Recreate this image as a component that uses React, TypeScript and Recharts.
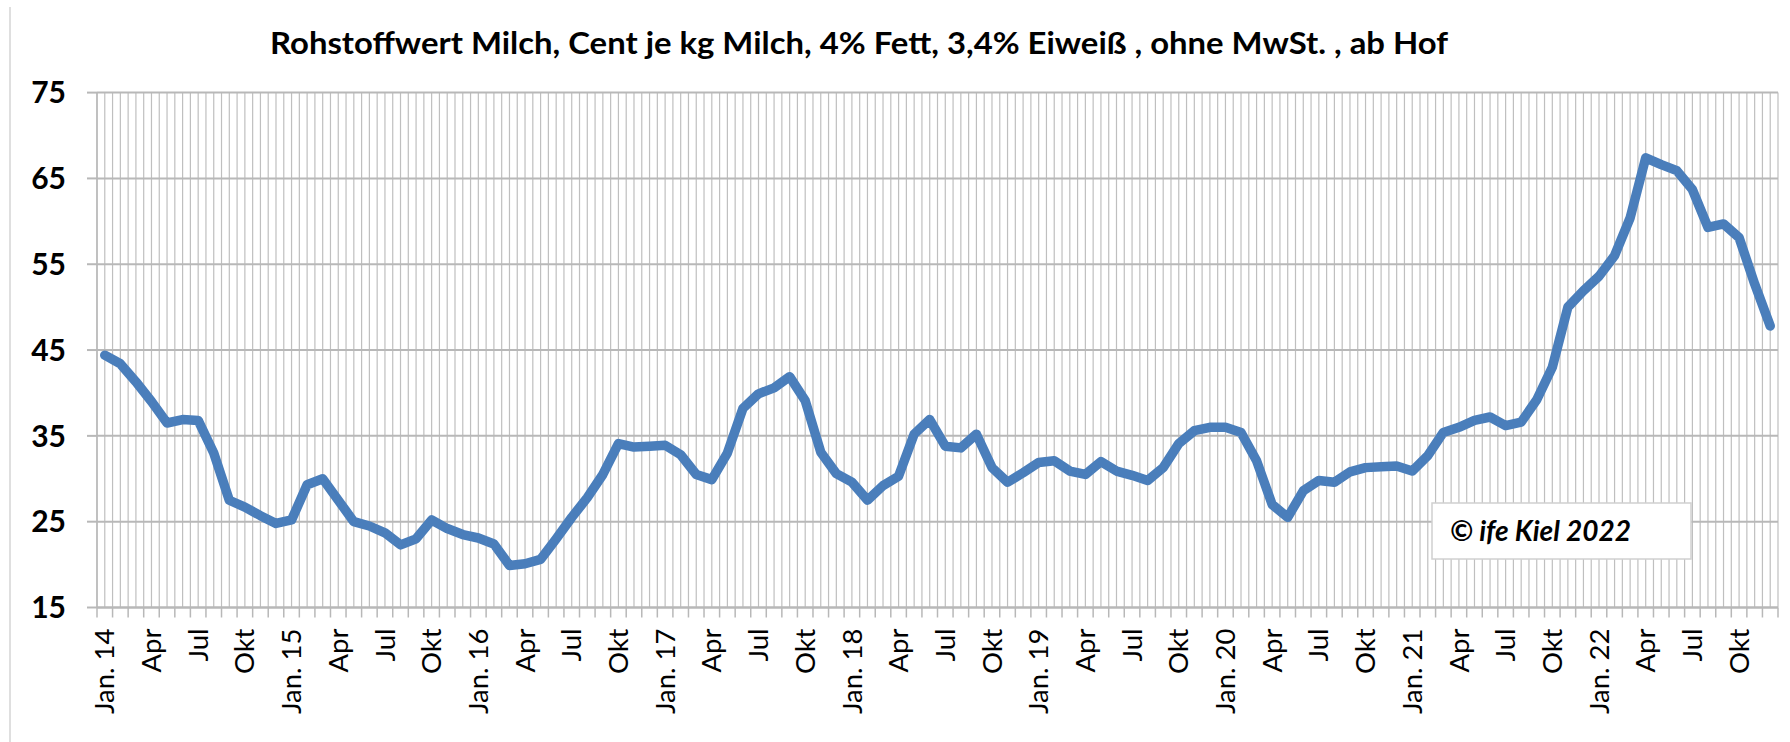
import React from 'react';
import { LineChart, Line, XAxis, YAxis, CartesianGrid } from 'recharts';

// Rohstoffwert Milch, ct/kg, monthly Jan 2014 .. Dec 2022
const v2014 = [44.4, 43.4, 41.3, 39.0, 36.5, 36.9, 36.8, 33.0, 27.5, 26.7, 25.7, 24.8];
const v2015 = [25.2, 29.3, 30.0, 27.5, 25.0, 24.5, 23.7, 22.3, 23.0, 25.2, 24.2, 23.5];
const v2016 = [23.1, 22.4, 19.9, 20.1, 20.6, 23.0, 25.5, 27.8, 30.5, 34.1, 33.7, 33.8];
const v2017 = [33.9, 32.8, 30.5, 29.9, 33.0, 38.2, 39.9, 40.6, 41.9, 39.1, 33.1, 30.6];
const v2018 = [29.6, 27.5, 29.2, 30.3, 35.2, 36.9, 33.8, 33.6, 35.2, 31.3, 29.6, 30.7];
const v2019 = [31.9, 32.1, 30.9, 30.5, 32.0, 30.9, 30.4, 29.8, 31.3, 34.1, 35.6, 36.0];
const v2020 = [36.0, 35.4, 32.1, 27.0, 25.5, 28.6, 29.8, 29.6, 30.8, 31.3, 31.4, 31.5];
const v2021 = [30.9, 32.7, 35.4, 36.0, 36.8, 37.2, 36.2, 36.6, 39.2, 43.0, 50.0, 51.9];
const v2022 = [53.6, 56.0, 60.4, 67.4, 66.6, 65.9, 63.7, 59.3, 59.7, 58.1, 52.7, 47.8];

const years = ['14', '15', '16', '17', '18', '19', '20', '21', '22'];
const quarterLabels = ['Jan.', 'Apr', 'Jul', 'Okt'];
const tickLabels = years.flatMap((y) => quarterLabels.map((q) => (q === 'Jan.' ? `Jan. ${y}` : q)));
const yTicks = [15, 25, 35, 45, 55, 65, 75];

const values = [...v2014, ...v2015, ...v2016, ...v2017, ...v2018, ...v2019, ...v2020, ...v2021, ...v2022];
const data = values.map((v, i) => ({ x: i + 0.5, v }));
const monthTicks = Array.from({ length: values.length + 1 }, (_, k) => k);

const W = 1790;
const H = 742;
const LEFT = 97;
const RIGHT = 12;
const TOP = 92.6;
const XAXIS_H = 134.5;
const PLOT_W = W - LEFT - RIGHT;
const MONTH_W = PLOT_W / values.length;
const FONT = 'Lato, "Open Sans", sans-serif';

const MonthTick = (props: any) => {
  const { x, y, payload } = props;
  const k = payload.value;
  if (k % 3 !== 0 || k >= values.length) return <g />;
  const cx = x + MONTH_W / 2;
  const ty = y + 9;
  return (
    <text
      x={cx}
      y={ty}
      transform={`rotate(-90 ${cx} ${ty})`}
      textAnchor="end"
      dy="0.35em"
      fontFamily={FONT}
      fontSize={27.5}
      fill="#000"
    >
      {tickLabels[k / 3]}
    </text>
  );
};

export default function App() {
  return (
    <div style={{ position: 'absolute', left: 0, top: 0, width: W, height: H, background: '#fff' }}>
      <LineChart width={W} height={H} data={data} margin={{ top: TOP, right: RIGHT, bottom: 0, left: 0 }}>
        <CartesianGrid
          horizontal={false}
          stroke="#bfbfbf"
          strokeWidth={1.2}
          verticalCoordinatesGenerator={({ offset }: any) =>
            Array.from({ length: values.length * 2 + 1 }, (_, k) => offset.left + (k * offset.width) / (values.length * 2))
          }
        />
        <CartesianGrid vertical={false} stroke="#b8b8b8" strokeWidth={2} />
        <XAxis
          type="number"
          dataKey="x"
          domain={[0, values.length]}
          ticks={monthTicks}
          interval={0}
          height={XAXIS_H}
          tickSize={10}
          tickLine={{ stroke: '#b8b8b8', strokeWidth: 1.5 }}
          axisLine={{ stroke: '#b8b8b8', strokeWidth: 2 }}
          tick={<MonthTick />}
        />
        <YAxis
          domain={[15, 75]}
          ticks={yTicks}
          interval={0}
          width={LEFT}
          tickSize={10}
          tickMargin={21}
          tickLine={{ stroke: '#b8b8b8', strokeWidth: 2 }}
          axisLine={{ stroke: '#b8b8b8', strokeWidth: 1.5 }}
          tick={{ fill: '#000', fontSize: 30, fontWeight: 700, fontFamily: FONT }}
        />
        <Line
          type="linear"
          dataKey="v"
          stroke="#4a7ebb"
          strokeWidth={9.5}
          strokeLinejoin="round"
          strokeLinecap="round"
          dot={false}
          isAnimationActive={false}
        />
      </LineChart>
      <svg width={W} height={H} style={{ position: 'absolute', left: 0, top: 0, pointerEvents: 'none' }}>
        <line x1={10} y1={7} x2={10} y2={H} stroke="#d4d4d4" strokeWidth={1.5} />
        <text
          x={270}
          y={54}
          textLength={1178}
          lengthAdjust="spacingAndGlyphs"
          fontFamily={FONT}
          fontWeight={700}
          fontSize={30}
          fill="#000"
        >
          Rohstoffwert Milch, Cent je kg Milch, 4% Fett, 3,4% Eiweiß , ohne MwSt. , ab Hof
        </text>
        <rect x={1432} y={503} width={259} height={56} fill="#fff" stroke="#d0d0d0" strokeWidth={1.5} />
        <text x={1450} y={541} fontFamily={FONT} fontWeight={700} fontStyle="italic" fontSize={28} fill="#000">
          © ife Kiel 2022
        </text>
      </svg>
    </div>
  );
}
